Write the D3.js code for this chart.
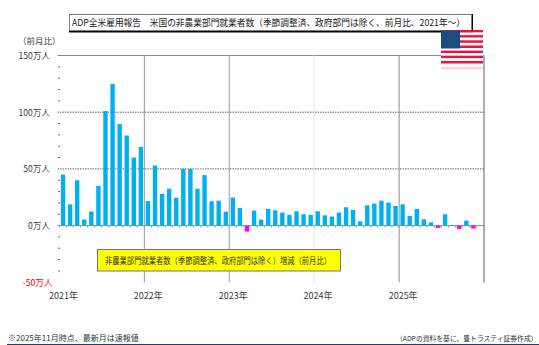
<!DOCTYPE html>
<html>
<head>
<meta charset="utf-8">
<script src="https://cdn.jsdelivr.net/npm/d3@7"></script>
<style>
html, body { margin: 0; padding: 0; background: #fff; }
text { font-family: "Noto Sans CJK JP", sans-serif; }
</style>
</head>
<body>
<svg id="chart" width="539" height="345"></svg>
<script>
// ADP monthly change in US nonfarm employment, in units of 10,000 people
const months = d3.range(60).map(i => new Date(2021, i, 1));
const changes = [
  45, 18.7, 40, 5.4, 12.5, 35, 101, 125, 89.5, 79.5, 60, 69.5,
  21.6, 53, 28, 32.5, 24.5, 50, 50, 32.5, 44.5, 21.5, 22, 12.3,
  24.7, 15.6, -5.3, 13.2, 5.3, 14.7, 13.5, 11.5, 9.4, 12.6, 10, 9.4,
  12.6, 9.1, 8, 11.5, 16.2, 13.8, 3.8, 17.9, 19.4, 22, 20.3, 17.3,
  18.8, 8.5, 14.7, 5.6, 2.9, -2, 10, 0.3, -3, 4.4, -2.6
];
const yTickValues = [150, 100, 50, 0, -50];
const yTickLabels = ["150万人", "100万人", "50万人", "0万人", "-50万人"];
const yearLabels = ["2021年", "2022年", "2023年", "2024年", "2025年"];
const yearGrid = [
  { year: 2022, color: "#9a9a9a" },
  { year: 2023, color: "#9a9a9a" },
  { year: 2024, color: "#e2e2e2" },
  { year: 2025, color: "#8c8c8c" },
  { year: 2026, color: "#5f5f5f" }
];
const titleText = "ADP全米雇用報告　米国の非農業部門就業者数（季節調整済、政府部門は除く、前月比、2021年～）";
const legendText = "非農業部門就業者数（季節調整済、政府部門は除く）増減（前月比）";
const unitText = "（前月比）";
const noteText = "※2025年11月時点、最新月は速報値";
const sourceText = "（ADPの資料を基に、豊トラスティ証券作成）";

const svg = d3.select("#chart");
const x = d3.scaleTime().domain([new Date(2021, 0, 1), new Date(2026, 0, 1)]).range([59.5, 484]);
const y = d3.scaleLinear().domain([-50, 150]).range([282.3, 55.5]);
const band = d3.scaleBand().domain(d3.range(60)).range([59.5, 484]).paddingInner(0.38).paddingOuter(0.19);

// Horizontal reference lines
const hGrid = svg.append("g");
hGrid.selectAll("line").data([150, 100, 50, 0]).join("line")
  .attr("x1", 57.5).attr("x2", 484)
  .attr("y1", d => y(d)).attr("y2", d => y(d))
  .attr("stroke", d => (d === 100 || d === 50) ? "#666" : "#8c8c8c")
  .attr("stroke-width", 1)
  .attr("stroke-dasharray", d => (d === 100 || d === 50) ? "1.5 1" : null);

// Year separators
svg.append("g").selectAll("line").data(yearGrid).join("line")
  .attr("x1", d => x(new Date(d.year, 0, 1))).attr("x2", d => x(new Date(d.year, 0, 1)))
  .attr("y1", y(150)).attr("y2", y(-50))
  .attr("stroke", d => d.color).attr("stroke-width", 1);

// Minor value ticks along the left edge
svg.append("g").selectAll("line")
  .data(d3.range(-40, 150, 10).filter(v => v % 50 !== 0)).join("line")
  .attr("x1", 58).attr("x2", 60)
  .attr("y1", d => y(d)).attr("y2", d => y(d))
  .attr("stroke", "#666");

// Monthly ticks below the zero line
svg.append("g").selectAll("line").data(months).join("line")
  .attr("x1", d => x(d)).attr("x2", d => x(d))
  .attr("y1", y(0)).attr("y2", y(0) + 2)
  .attr("stroke", "#999");

// Monthly bars
svg.append("g").selectAll("rect").data(changes).join("rect")
  .attr("x", (d, i) => band(i))
  .attr("width", band.bandwidth())
  .attr("y", d => y(Math.max(d, 0)))
  .attr("height", d => Math.abs(y(d) - y(0)))
  .attr("fill", d => d < 0 ? "#ff00ff" : "#00b0f0");

// Value axis labels
svg.append("g").selectAll("text").data(yTickValues).join("text")
  .attr("x", d => d === -50 ? 52.5 : 50)
  .attr("y", d => y(d) + 3.5)
  .attr("text-anchor", "end")
  .attr("font-size", 8.6)
  .attr("fill", d => d < 0 ? "#ff0000" : "#404040")
  .text((d, i) => yTickLabels[i]);

// Year labels
svg.append("g").selectAll("text").data(yearLabels).join("text")
  .attr("x", (d, i) => x(new Date(2021 + i, 0, 1)) + 4)
  .attr("y", 298.5)
  .attr("text-anchor", "middle")
  .attr("font-size", 9)
  .attr("fill", "#404040")
  .text(d => d);

svg.append("text").attr("x", 18).attr("y", 44)
  .attr("font-size", 8.5).attr("fill", "#404040").text(unitText);

// Title box with a heavy lower-right edge
svg.append("rect").attr("x", 69).attr("y", 14).attr("width", 404).attr("height", 18.5)
  .attr("fill", "#000");
svg.append("rect").attr("x", 69.5).attr("y", 14.5).attr("width", 402).attr("height", 16)
  .attr("fill", "#fff").attr("stroke", "#808080").attr("stroke-width", 0.6);
svg.append("text").attr("x", 72).attr("y", 26)
  .attr("font-size", 9.2).attr("fill", "#222")
  .attr("textLength", 393).attr("lengthAdjust", "spacingAndGlyphs").text(titleText);

// Flag with a faint reflected stripe beneath it
const flagX = d3.scaleLinear().domain([0, 1]).range([441, 483]);
const flagY = d3.scaleBand().domain(d3.range(13)).range([30, 63.5]);
const flag = svg.append("g");
flag.append("rect").attr("x", flagX(0)).attr("y", 63.5)
  .attr("width", flagX(1) - flagX(0)).attr("height", 3).attr("fill", "#ffffff");
flag.selectAll("rect.stripe").data(d3.range(13)).join("rect")
  .attr("class", "stripe")
  .attr("x", flagX(0)).attr("width", flagX(1) - flagX(0))
  .attr("y", d => flagY(d)).attr("height", flagY.bandwidth())
  .attr("fill", d => d % 2 === 0 ? "#e8133f" : "#ffffff");
flag.append("rect").attr("x", flagX(0)).attr("y", 66.5)
  .attr("width", flagX(1) - flagX(0)).attr("height", 3).attr("fill", "#fbd5dc");
flag.append("rect").attr("x", flagX(0)).attr("y", 30.5)
  .attr("width", 19).attr("height", 18).attr("fill", "#1f4a7d");

// Legend box
svg.append("rect").attr("x", 97.5).attr("y", 249.5).attr("width", 243).attr("height", 21.5)
  .attr("fill", "#ffff00").attr("stroke", "#777").attr("stroke-width", 1);
svg.append("text").attr("x", 218).attr("y", 264)
  .attr("text-anchor", "middle").attr("font-size", 8.6).attr("fill", "#333")
  .attr("textLength", 226).attr("lengthAdjust", "spacingAndGlyphs").text(legendText);

// Footer
svg.append("text").attr("x", 8).attr("y", 341)
  .attr("font-size", 8).attr("fill", "#333").text(noteText);
svg.append("text").attr("x", 396).attr("y", 341)
  .attr("font-size", 6.8).attr("fill", "#333").text(sourceText);
svg.append("rect").attr("x", 7).attr("y", 344).attr("width", 532).attr("height", 1)
  .attr("fill", "#1f3f7a");
</script>
</body>
</html>
